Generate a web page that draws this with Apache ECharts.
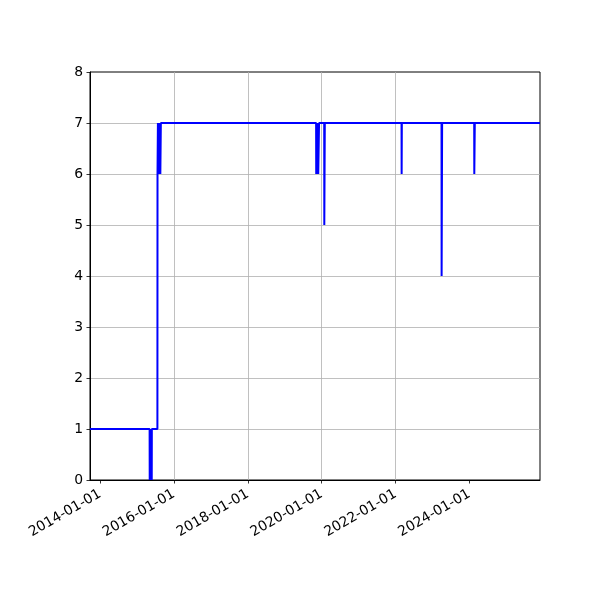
<!DOCTYPE html>
<html>
<head>
<meta charset="utf-8">
<script src="https://cdn.jsdelivr.net/npm/echarts@6/dist/echarts.min.js"></script>
<style>html,body{margin:0;padding:0;background:#fff;}#c{width:600px;height:600px;}</style>
</head>
<body>
<div id="c"></div>
<script>
const dates = [
  '2013-09-24','2015-05-06','2015-05-07','2015-05-08','2015-05-17','2015-05-18','2015-05-27','2015-05-28',
  '2015-07-22','2015-07-23','2015-07-27','2015-07-31','2015-08-05','2015-08-10','2015-08-15','2015-08-20','2015-08-25',
  '2019-11-07','2019-11-08','2019-11-13','2019-11-18','2019-11-23','2019-11-28','2019-12-05','2019-12-06',
  '2020-01-26','2020-01-27','2020-01-31','2020-02-01',
  '2022-03-01','2022-03-02','2022-03-04',
  '2023-03-31','2023-04-01','2023-04-05','2023-04-06',
  '2024-02-17','2024-02-18','2024-02-22','2024-02-23',
  '2025-11-29'
];
const values = [
  1,1,0,1,0,1,0,1,
  1,6,7,6,7,6,7,6,7,
  7,6,7,6,7,6,6,7,
  7,5,5,7,
  7,6,7,
  7,4,4,7,
  7,6,6,7,
  7
];
const xTickYears = [2014, 2016, 2018, 2020, 2022, 2024];
const yTicks = [0,1,2,3,4,5,6,7,8];
const xStart = '2013-09-24';
const xEnd = '2025-11-29';

function decYear(s) {
  const [y, m, d] = s.split('-').map(Number);
  const t = Date.UTC(y, m - 1, d);
  const a = Date.UTC(y, 0, 1), b = Date.UTC(y + 1, 0, 1);
  return y + (t - a) / (b - a);
}

const data = dates.map((d, i) => [decYear(d), values[i]]);
const font = 'DejaVu Sans';
const chart = echarts.init(document.getElementById('c'), null, {renderer: 'canvas'});
chart.setOption({
  animation: false,
  backgroundColor: '#fff',
  grid: {left: 90, right: 60, top: 72, bottom: 120, show: true, borderColor: '#000', borderWidth: 1, backgroundColor: 'transparent'},
  xAxis: {
    type: 'value',
    min: decYear(xStart),
    max: decYear(xEnd),
    axisLine: {show: true, onZero: false, lineStyle: {color: '#000', width: 1}},
    axisTick: {show: true, length: 3.5, lineStyle: {color: '#000', width: 0.8}, customValues: xTickYears},
    axisLabel: {
      customValues: xTickYears,
      rotate: 30, margin: 13,
      fontFamily: font, fontSize: 13.9, color: '#000',
      formatter: v => Math.round(v) + '-01-01'
    },
    splitLine: {show: true, showMinLine: false, showMaxLine: false, lineStyle: {color: '#b0b0b0', width: 0.8}}
  },
  yAxis: {
    type: 'value',
    min: 0, max: 8, interval: 1,
    axisLine: {show: true, lineStyle: {color: '#000', width: 1}},
    axisTick: {show: true, length: 3.5, lineStyle: {color: '#000', width: 0.8}},
    axisLabel: {margin: 7, fontFamily: font, fontSize: 13.9, color: '#000',
      formatter: v => yTicks.includes(v) ? String(v) : ''},
    splitLine: {show: true, showMinLine: false, showMaxLine: false, lineStyle: {color: '#b0b0b0', width: 0.8}}
  },
  series: [{
    type: 'line',
    data: data,
    showSymbol: false,
    symbol: 'none',
    lineStyle: {color: '#0000ff', width: 2},
    z: 3
  }]
});
</script>
</body>
</html>
